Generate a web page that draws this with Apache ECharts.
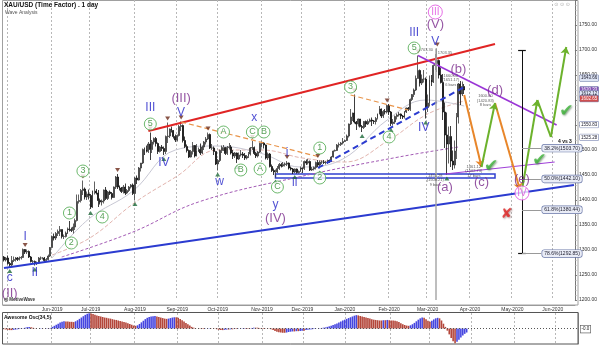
<!DOCTYPE html>
<html>
<head>
<meta charset="utf-8">
<title>XAU/USD Wave Analysis</title>
<script src="https://cdn.jsdelivr.net/npm/echarts@6.0.0/dist/echarts.min.js"></script>
<style>
html,body{margin:0;padding:0;background:#fff;}
#chart{width:600px;height:345px;}
</style>
</head>
<body>
<div id="chart"></div>
<script>
// ---------- categories (weekday trading days) ----------
const firstDay = '2019-04-29';
const lastDay = '2020-06-16';
const monthTickLabels = ['Jun-2019','Jul-2019','Aug-2019','Sep-2019','Oct-2019','Nov-2019','Dec-2019',
  'Jan-2020','Feb-2020','Mar-2020','Apr-2020','May-2020','Jun-2020'];

// ---------- daily candles [open, close, low, high] ----------
const apr2019 = [[1286,1280,1277,1288],[1280,1284,1277,1286]];
const may2019 = [[1284,1273,1271,1289],[1273,1270,1266,1276],[1270,1279,1267,1288],[1279,1281,1276,1287],
  [1281,1284,1277,1286],[1284,1281,1278,1286],[1281,1284,1279,1287],[1284,1285,1281,1288],[1285,1301,1284,1303],
  [1301,1296,1292,1302],[1296,1297,1292,1301],[1297,1286,1284,1299],[1286,1277,1275,1288],[1277,1277,1273,1280],
  [1277,1273,1269,1279],[1273,1274,1270,1277],[1274,1284,1272,1286],[1284,1284,1280,1287],[1284,1284,1281,1286],
  [1284,1279,1276,1286],[1279,1281,1276,1284],[1281,1288,1279,1291],[1288,1305,1286,1306]];
const jun2019 = [[1305,1327,1304,1329],[1327,1324,1319,1333],[1324,1333,1320,1336],[1333,1337,1328,1341],
  [1337,1341,1328,1348],[1341,1327,1323,1341],[1327,1327,1322,1331],[1327,1334,1325,1337],[1334,1342,1332,1345],
  [1342,1341,1337,1358],[1341,1339,1336,1345],[1339,1346,1333,1353],[1346,1359,1340,1363],[1359,1397,1357,1411],
  [1397,1399,1393,1411],[1399,1419,1395,1422],[1419,1422,1410,1439],[1422,1406,1401,1425],[1406,1412,1400,1417],
  [1412,1409,1401,1421]];
const jul2019 = [[1409,1386,1382,1412],[1386,1418,1384,1419],[1418,1418,1411,1437],[1418,1414,1411,1422],
  [1414,1399,1386,1420],[1399,1396,1391,1403],[1396,1398,1389,1401],[1398,1420,1393,1421],[1420,1403,1400,1426],
  [1403,1416,1400,1418],[1416,1413,1410,1419],[1413,1405,1401,1416],[1405,1426,1404,1427],[1426,1446,1422,1448],
  [1446,1426,1422,1452],[1426,1424,1419,1429],[1424,1417,1414,1426],[1417,1426,1413,1430],[1426,1414,1410,1433],
  [1414,1419,1412,1422],[1419,1426,1416,1428],[1426,1430,1423,1432],[1430,1413,1410,1433]];
const aug2019 = [[1413,1444,1400,1446],[1444,1440,1432,1449],[1440,1464,1439,1466],[1464,1474,1457,1474],
  [1474,1501,1472,1503],[1501,1500,1490,1505],[1500,1497,1495,1509],[1497,1512,1494,1516],[1512,1501,1480,1535],
  [1501,1516,1494,1520],[1516,1523,1511,1525],[1523,1513,1507,1526],[1513,1497,1492,1515],[1497,1506,1495,1508],
  [1506,1503,1498,1510],[1503,1497,1490,1507],[1497,1527,1492,1529],[1527,1528,1514,1555],[1528,1542,1524,1543],
  [1542,1539,1535,1547],[1539,1527,1523,1540],[1527,1520,1516,1531]];
const sep2019 = [[1520,1529,1517,1531],[1529,1547,1527,1550],[1547,1549,1538,1557],[1549,1519,1515,1551],
  [1519,1507,1504,1527],[1507,1499,1495,1511],[1499,1486,1484,1501],[1486,1497,1485,1500],[1497,1509,1491,1516],
  [1509,1488,1485,1510],[1488,1498,1487,1512],[1498,1501,1496,1505],[1501,1494,1490,1513],[1494,1506,1492,1509],
  [1506,1516,1500,1518],[1516,1522,1511,1526],[1522,1531,1520,1535],[1531,1504,1502,1533],[1504,1504,1500,1512],
  [1504,1497,1490,1507],[1497,1472,1470,1497]];
const oct2019 = [[1472,1479,1459,1482],[1479,1499,1476,1501],[1499,1505,1494,1509],[1505,1505,1498,1510],
  [1505,1493,1490,1506],[1493,1505,1490,1508],[1505,1506,1501,1514],[1506,1494,1491,1510],[1494,1488,1482,1500],
  [1488,1494,1484,1496],[1494,1482,1474,1495],[1482,1490,1480,1495],[1490,1492,1487,1500],[1492,1489,1484,1496],
  [1489,1484,1480,1494],[1484,1487,1481,1490],[1487,1492,1484,1496],[1492,1504,1489,1506],[1504,1505,1500,1518],
  [1505,1493,1490,1507],[1493,1488,1484,1496],[1488,1496,1485,1498],[1496,1513,1494,1515]];
const nov2019 = [[1513,1514,1505,1517],[1514,1510,1503,1516],[1510,1484,1481,1511],[1484,1492,1480,1495],
  [1492,1467,1465,1494],[1467,1459,1456,1471],[1459,1456,1450,1463],[1456,1456,1445,1461],[1456,1463,1454,1468],
  [1463,1471,1460,1474],[1471,1468,1465,1474],[1468,1471,1466,1476],[1471,1472,1467,1475],[1472,1474,1468,1478],
  [1474,1464,1461,1475],[1464,1462,1459,1467],[1462,1456,1452,1464],[1456,1462,1454,1463],[1462,1455,1453,1463],
  [1455,1457,1453,1459],[1457,1464,1456,1467]];
const dec2019 = [[1464,1463,1454,1465],[1463,1477,1460,1479],[1477,1474,1470,1481],[1474,1477,1471,1482],
  [1477,1460,1458,1479],[1460,1462,1458,1466],[1462,1465,1459,1467],[1465,1475,1461,1477],[1475,1470,1466,1480],
  [1470,1476,1463,1479],[1476,1476,1472,1479],[1476,1475,1472,1480],[1475,1475,1471,1478],[1475,1479,1472,1481],
  [1479,1478,1474,1481],[1478,1486,1476,1488],[1486,1498,1485,1499],[1498,1499,1497,1501],[1499,1510,1498,1512],
  [1510,1511,1505,1515],[1511,1514,1508,1516],[1514,1517,1511,1524]];
const jan2020 = [[1517,1519,1516,1521],[1519,1528,1518,1531],[1528,1552,1525,1553],[1552,1566,1550,1582],
  [1566,1574,1558,1575],[1574,1556,1553,1611],[1556,1552,1540,1558],[1552,1562,1547,1563],[1562,1547,1545,1562],
  [1547,1545,1536,1550],[1545,1557,1542,1558],[1557,1552,1546,1559],[1552,1557,1550,1561],[1557,1560,1555,1563],
  [1560,1558,1548,1565],[1558,1557,1552,1560],[1557,1563,1551,1566],[1563,1572,1561,1573],[1572,1582,1571,1588],
  [1582,1568,1564,1583],[1568,1577,1564,1580],[1577,1576,1571,1582],[1576,1589,1573,1591]];
const feb2020 = [[1589,1576,1570,1592],[1576,1553,1548,1578],[1553,1556,1549,1562],[1556,1567,1552,1569],
  [1567,1570,1561,1573],[1570,1572,1567,1576],[1572,1568,1562,1573],[1568,1566,1562,1570],[1566,1576,1563,1578],
  [1576,1584,1574,1585],[1584,1581,1578,1586],[1581,1601,1578,1603],[1601,1611,1598,1612],[1611,1620,1606,1623],
  [1620,1643,1618,1649],[1643,1659,1643,1689],[1659,1634,1627,1661],[1634,1642,1630,1651],[1642,1642,1635,1660],
  [1642,1585,1563,1645]];
const mar2020 = [[1585,1594,1576,1611],[1594,1641,1587,1649],[1641,1636,1628,1650],[1636,1669,1634,1671],
  [1669,1673,1660,1692],[1673,1679,1656,1703],[1679,1650,1643,1681],[1650,1635,1633,1665],[1635,1576,1560,1652],
  [1576,1530,1504,1595],[1530,1512,1451,1575],[1512,1527,1473,1547],[1527,1478,1466,1548],[1478,1470,1460,1499],
  [1470,1498,1463,1519],[1498,1566,1482,1574],[1566,1632,1553,1634],[1632,1612,1590,1638],[1612,1627,1608,1637],
  [1627,1620,1612,1632]];

// ---------- Awesome Oscillator (34,5) values ----------
const aoApr2019 = [-3,-4];
const aoMay2019 = [-5,-6,-6,-5,-4,-3,-2,-1,1,3,5,6,5,3,1,0,0,1,1,0,1,1,2];
const aoJun2019 = [6,10,14,18,22,25,27,26,26,25,25,24,27,31,36,41,46,51,55,57];
const aoJul2019 = [56,54,51,49,47,45,43,41,40,38,37,35,33,32,30,28,26,24,22,20,17,14,11];
const aoAug2019 = [10,12,17,23,29,35,40,43,45,46,47,45,43,41,39,37,36,37,39,41,42,42];
const aoSep2019 = [40,36,31,26,21,16,11,6,3,1,0,-1,-2,-2,-1,0,1,1,0,-1,-3];
const aoOct2019 = [-5,-6,-6,-5,-4,-4,-3,-3,-2,-2,-1,0,1,2,2,2,1,2,3,3,3,2,2];
const aoNov2019 = [2,1,0,-1,-3,-6,-9,-12,-14,-15,-16,-16,-15,-13,-12,-11,-11,-10,-10,-9,-8];
const aoDec2019 = [-8,-6,-5,-4,-3,-2,-1,0,1,2,3,4,6,8,10,13,16,19,22,26,30,33];
const aoJan2020 = [36,39,42,45,48,50,49,47,45,43,41,39,37,35,33,32,31,30,30,31,31,32,31];
const aoFeb2020 = [30,30,29,27,24,20,16,13,11,10,12,16,21,27,33,38,41,40,35,29];
const aoMar2020 = [25,29,34,38,40,38,30,18,6,-8,-22,-36,-48,-55,-50,-42,-34,-26,-20,-15];

// ---------- moving averages [dayIndex, price] ----------
const ma200Points = [[30,1286],[67,1336],[101,1396],[153,1446],[205,1486],[236,1506]];
const ma50Points = [[25,1290],[45,1325],[68,1395],[90,1448],[111,1500],[134,1500],[155,1484],[177,1476],[200,1520],[220,1572],[239,1598]];
const ma20Points = [[25,1284],[44,1362],[67,1418],[89,1500],[110,1508],[133,1494],[154,1466],[176,1482],[199,1560],[219,1600],[239,1588]];

// ---------- wave labels [dayIndex, price, text] ----------
const blueWaveLabels = [[3,1244,'c'],[11,1326,'I'],[16,1254,'II'],[76,1584,'III'],[83,1474,'IV'],[92,1574,'V'],
  [112,1436,'w'],[130,1564,'x'],[141,1390,'y'],[147,1494,'i'],[151,1434,'ii'],[213,1734,'III'],[218,1544,'IV'],[224,1716,'V']];
const purpleWaveLabels = [[3,1214,'(II)'],[92,1604,'(III)'],[141,1364,'(IV)'],[224,1752,'(V)'],[229,1426,'(a)'],
  [236,1662,'(b)'],[248,1436,'(c)'],[255,1620,'(d)'],[269,1442,'(e)']];
const greenWaveLabels = [[34,1374,'1'],[35,1314,'2'],[41,1458,'3'],[51,1366,'4'],[76,1552,'5'],[114,1536,'A'],
  [123,1460,'B'],[129,1536,'C'],[135,1536,'B'],[133,1462,'A'],[142,1426,'C'],[164,1504,'1'],[164,1444,'2'],
  [180,1626,'3'],[200,1526,'4'],[213,1704,'5']];
const pinkWaveLabels = [[224,1776,'III'],[269,1414,'IV']];
const pivotHighDays = [11,41,59,76,85,92,106,129,147,163,182,199,215,225];
const pivotLowDays = [3,16,45,68,83,111,121,141,151,164,186,201,219,230];
// small measurement notes [dayIndex, price, text]
const waveNotes = [[219,1700,'1703.30'],[229,1694,'1703.35'],[232,1640,'1660.00\n(1651.17)\n6 bars'],
  [250,1599,'1600.00\n(1420.83)\n8 bars'],[224,1440,'1451.28\n(1508.21)\n9 bars'],[244,1458,'1461.12\n(1502.73)\n17 bars']];

// ---------- trend lines [day1, price1, day2, price2] ----------
const redChannel = [75,1538,255,1712];
const blueSupport = [0,1264,296,1430];
const blueDashed = [163,1464,239,1626];
const purpleResistance = [215,1689,287,1550];
const purpleSupport = [229,1452,286,1476];
const orangeDashA = [92,1556,164,1486];
const orangeDashB = [180,1610,210,1580];
const supportZone = [141,1452,255,1444];
const crashMarkerDay = 224;
// scenario arrows
const orangeScenario = [[239,1610,248,1466],[255,1594,268,1420]];
const greenScenario = [[248,1466,255,1594],[269,1420,277,1600],[277,1600,284,1526],[284,1526,292,1706]];
// fibonacci tool
const fibLevels = [['38.2%',1503.70],['50.0%',1442.10],['61.8%',1380.44],['78.6%',1292.85]];
const measureDay = 269, measureTop = 1700, measureBottom = 1292.85;
const checkMarks = [[253,1466],[278,1478],[292,1576]];
const crossMarks = [[261,1372]];
// price tags on the right axis [price, background, text colour]
const priceTags = [[1643.66,'#dde4f4','#223'],[1620.33,'#8455b5','#fff'],[1612.12,'#dde4f4','#223'],
  [1602.65,'#cf4f4f','#fff'],[1550.83,'#ffffff','#223'],[1525.28,'#ffffff','#223']];

// ---------- build ----------
function weekdays(a, b) {
  const out = [];
  const d = new Date(a + 'T00:00:00Z'), e = new Date(b + 'T00:00:00Z');
  while (d <= e) { const w = d.getUTCDay(); if (w !== 0 && w !== 6) out.push(d.toISOString().slice(0, 10)); d.setUTCDate(d.getUTCDate() + 1); }
  return out;
}
const dates = weekdays(firstDay, lastDay);
const candles = [].concat(apr2019, may2019, jun2019, jul2019, aug2019, sep2019, oct2019, nov2019, dec2019, jan2020, feb2020, mar2020);
const ao = [].concat(aoApr2019, aoMay2019, aoJun2019, aoJul2019, aoAug2019, aoSep2019, aoOct2019, aoNov2019, aoDec2019, aoJan2020, aoFeb2020, aoMar2020);
const MON = ['Jan','Feb','Mar','Apr','May','Jun','Jul','Aug','Sep','Oct','Nov','Dec'];
const monthName = s => MON[+s.slice(5, 7) - 1] + '-' + s.slice(0, 4);
const monthStart = new Set();
dates.forEach((s, i) => { if (i > 0 && s.slice(0, 7) !== dates[i - 1].slice(0, 7)) monthStart.add(i); });
const labelSet = new Set(monthTickLabels);
const D = i => dates[i];

const FONT = 'Liberation Sans, Arial, sans-serif';
const BLUE = '#2424c8', PURPLE = '#7b2a8c', PINK = '#e04ce0';

function seg(arr, style, endSym) {
  return [{ coord: [D(arr[0]), arr[1]], symbol: 'none', lineStyle: style },
          { coord: [D(arr[2]), arr[3]], symbol: endSym || 'none', symbolSize: 7 }];
}
const markLines = [
  seg(redChannel, { color: '#e02424', width: 2, type: 'solid' }),
  seg(blueSupport, { color: '#2b3bd0', width: 2, type: 'solid' }),
  seg(blueDashed, { color: '#2b3bd0', width: 2, type: [6, 4] }),
  seg(purpleResistance, { color: '#9a35d6', width: 1.6, type: 'solid' }),
  seg(purpleSupport, { color: '#a040d8', width: 1.2, type: 'solid' }),
  seg(orangeDashA, { color: '#e8944a', width: 1.2, type: [5, 3] }),
  seg(orangeDashB, { color: '#e8944a', width: 1.2, type: [5, 3] }),
  [{ coord: [D(crashMarkerDay), 1703], symbol: 'none', lineStyle: { color: '#a8a8a8', width: 1.5, type: 'solid' } },
   { coord: [D(crashMarkerDay), 1200], symbol: 'none' }],
  [{ coord: [D(measureDay), measureTop], symbol: 'none', lineStyle: { color: '#111', width: 1, type: 'solid' } },
   { coord: [D(measureDay), measureBottom], symbol: 'none' }],
  [{ coord: [D(measureDay - 2), measureTop], symbol: 'none', lineStyle: { color: '#111', width: 1.2, type: 'solid' } },
   { coord: [D(measureDay + 2), measureTop], symbol: 'none' }],
  [{ coord: [D(measureDay - 2), measureBottom], symbol: 'none', lineStyle: { color: '#111', width: 1.2, type: 'solid' } },
   { coord: [D(measureDay + 2), measureBottom], symbol: 'none' }],
];
orangeScenario.forEach(a => markLines.push(seg(a, { color: '#e8862a', width: 2, type: 'solid' }, 'arrow')));
greenScenario.forEach((a, k) => markLines.push(seg(a, { color: '#6cb22c', width: 2, type: 'solid' }, (k === 2 ? 'none' : 'arrow'))));
fibLevels.forEach(([pct, v]) => {
  markLines.push([
    { coord: [D(measureDay), v], symbol: 'none', lineStyle: { color: '#999', width: 1, type: 'solid' },
      label: { show: true, position: 'end', distance: 1, formatter: pct + '(' + v.toFixed(2) + ')', fontSize: 5, fontFamily: FONT,
        color: '#223', backgroundColor: '#e9ecf6', borderColor: '#6a78a8', borderWidth: 0.7, borderRadius: 2, padding: [1, 2, 1, 2] } },
    { coord: [D(measureDay + 10), v], symbol: 'none' }
  ]);
});

function textScatter(list, opts) {
  return Object.assign({
    type: 'scatter', xAxisIndex: 0, yAxisIndex: 0, z: 10, silent: true,
    symbol: 'circle', symbolSize: 1, itemStyle: { color: 'rgba(0,0,0,0)' },
    data: list.map(r => [D(r[0]), r[1], r[2]]),
    label: { show: true, position: 'inside', formatter: p => p.value[2], fontFamily: FONT }
  }, opts);
}
function maLine(points, color, type, width) {
  return { type: 'line', xAxisIndex: 0, yAxisIndex: 0, data: points.map(p => [D(p[0]), p[1]]), smooth: 0.4,
    showSymbol: false, lineStyle: { color: color, width: width, type: type }, z: 2, silent: true };
}

const option = {
  animation: false,
  backgroundColor: '#ffffff',
  textStyle: { fontFamily: FONT },
  grid: [
    { left: 3, right: 22, top: 0, height: 300, show: false },
    { left: 3, right: 22, top: 313, height: 31, show: false }
  ],
  xAxis: [
    { type: 'category', gridIndex: 0, data: dates, boundaryGap: true, offset: 5,
      axisLine: { show: true, lineStyle: { color: '#9a9a9a', width: 1 } },
      axisTick: { show: false },
      axisLabel: { show: true, fontSize: 5, color: '#333', margin: 2, fontFamily: FONT,
        interval: (i, v) => monthStart.has(i) && labelSet.has(monthName(v)),
        formatter: v => monthName(v) },
      splitLine: { show: true, interval: (i) => monthStart.has(i), lineStyle: { color: '#b8b8b8', type: [2, 2], width: 1 } } },
    { type: 'category', gridIndex: 1, data: dates, boundaryGap: true,
      axisLine: { show: false }, axisTick: { show: false }, axisLabel: { show: false },
      splitLine: { show: true, interval: (i) => monthStart.has(i), lineStyle: { color: '#b8b8b8', type: [2, 2], width: 1 } } }
  ],
  yAxis: [
    { type: 'value', gridIndex: 0, position: 'right', min: 1200, max: 1800, interval: 50, scale: true,
      axisLine: { show: true, lineStyle: { color: '#777' } },
      axisTick: { show: true, length: 2, lineStyle: { color: '#777' } },
      minorTick: { show: true, splitNumber: 5, length: 1.5, lineStyle: { color: '#999' } },
      splitLine: { show: false },
      axisLabel: { fontSize: 5, color: '#333', margin: 4, showMaxLabel: false, fontFamily: FONT, formatter: v => v.toFixed(2) } },
    { type: 'value', gridIndex: 1, position: 'right', min: -58, max: 58,
      axisLine: { show: true, lineStyle: { color: '#777' } }, axisTick: { show: false },
      axisLabel: { show: false }, splitLine: { show: false } }
  ],
  graphic: [
    { id: 'frameMain', type: 'rect', shape: { x: 2.5, y: 0.5, width: 575.5, height: 304.5 }, style: { fill: 'none', stroke: '#a0a0a0', lineWidth: 1 }, z: 0, silent: true },
    { id: 'frameOsc', type: 'rect', shape: { x: 2.5, y: 312.5, width: 575.5, height: 31.5 }, style: { fill: 'none', stroke: '#555', lineWidth: 1 }, z: 0, silent: true },
    { id: 't1', type: 'text', left: 4, top: 2, z: 20, style: { text: 'XAU/USD (Time Factor) . 1 day', font: 'bold 6.5px ' + FONT, fill: '#111' } },
    { id: 't2', type: 'text', left: 5, top: 10, z: 20, style: { text: 'Wave Analysis', font: '5px ' + FONT, fill: '#555' } },
    { id: 't3', type: 'text', left: 4, top: 297, z: 20, style: { text: '\u25CE MotiveWave', font: 'bold 4.5px ' + FONT, fill: '#333' } },
    { id: 't4', type: 'text', left: 4, top: 315, z: 20, style: { text: 'Awesome Osc(34,5)', font: 'bold 5px ' + FONT, fill: '#111' } },
    { id: 't5', type: 'text', left: 558, top: 139, z: 20, style: { text: '4 vs 3', font: 'bold 5px ' + FONT, fill: '#111' } },
    { id: 't6', type: 'text', left: 580, top: 325, z: 20, style: { text: '-0.0', font: '4.5px ' + FONT, fill: '#222', backgroundColor: '#fff', borderColor: '#555', borderWidth: 0.6, padding: [1, 1] } },
    { id: 't7', type: 'text', right: 30, top: 2, z: 20, style: { text: '\u2299 \u2299 \u2299', font: '5px DejaVu Sans', fill: '#aaa' } }
  ],
  series: [
    { type: 'candlestick', name: 'XAU/USD', xAxisIndex: 0, yAxisIndex: 0, data: candles, barWidth: 1.4, z: 3,
      itemStyle: { color: '#4a4a4a', color0: '#0d0d0d', borderColor: '#3a3a3a', borderColor0: '#0d0d0d', borderWidth: 0.8 },
      markLine: { silent: true, symbol: ['none', 'none'], label: { show: false }, animation: false, z: 6, data: markLines },
      markArea: { silent: true, itemStyle: { color: 'rgba(0,0,0,0)', borderColor: '#3040d0', borderWidth: 1.5 },
        data: [[{ coord: [D(supportZone[0]), supportZone[1]] }, { coord: [D(supportZone[2]), supportZone[3]] }]] } },
    maLine(ma200Points, '#a35bb5', [3, 2], 1),
    maLine(ma50Points, '#e2b4ae', [4, 2], 1),
    maLine(ma20Points, '#c8c8d4', 'solid', 1),
    { type: 'scatter', xAxisIndex: 0, yAxisIndex: 0, symbol: 'triangle', symbolSize: [5, 4], symbolRotate: 180, symbolOffset: [0, -4],
      itemStyle: { color: '#6b2a1a' }, z: 8, silent: true, data: pivotHighDays.map(i => [D(i), candles[i][3]]) },
    { type: 'scatter', xAxisIndex: 0, yAxisIndex: 0, symbol: 'triangle', symbolSize: [5, 4], symbolOffset: [0, 4],
      itemStyle: { color: '#1e6a3a' }, z: 8, silent: true, data: pivotLowDays.map(i => [D(i), candles[i][2]]) },
    textScatter(waveNotes, { z: 9, label: { show: true, position: 'inside', formatter: p => p.value[2], fontFamily: FONT, fontSize: 4, lineHeight: 4.5, color: '#333' } }),
    textScatter(blueWaveLabels, { label: { show: true, position: 'inside', formatter: p => p.value[2], fontFamily: FONT, fontSize: 12, color: BLUE } }),
    textScatter(purpleWaveLabels, { label: { show: true, position: 'inside', formatter: p => p.value[2], fontFamily: FONT, fontSize: 13, color: PURPLE } }),
    Object.assign(textScatter(greenWaveLabels, {}), { symbolSize: 12, itemStyle: { color: '#ffffff', borderColor: '#4aa84a', borderWidth: 1 },
      label: { show: true, position: 'inside', formatter: p => p.value[2], fontFamily: FONT, fontSize: 9, color: '#2f8a2f' } }),
    Object.assign(textScatter(pinkWaveLabels, {}), { symbolSize: 14, itemStyle: { color: '#ffffff', borderColor: PINK, borderWidth: 1 },
      label: { show: true, position: 'inside', formatter: p => p.value[2], fontFamily: FONT, fontSize: 10, color: PINK } }),
    textScatter(checkMarks.map(c => [c[0], c[1], '\u2714']), { z: 12, label: { show: true, position: 'inside', formatter: p => p.value[2],
      fontFamily: 'DejaVu Sans', fontSize: 17, color: '#3fb33a', textShadowColor: 'rgba(0,60,0,0.6)', textShadowBlur: 2, textShadowOffsetX: 1, textShadowOffsetY: 1 } }),
    textScatter(crossMarks.map(c => [c[0], c[1], '\u2718']), { z: 12, label: { show: true, position: 'inside', formatter: p => p.value[2],
      fontFamily: 'DejaVu Sans', fontSize: 14, color: '#e02020', textShadowColor: 'rgba(80,0,0,0.5)', textShadowBlur: 2, textShadowOffsetX: 1, textShadowOffsetY: 1 } }),
    { type: 'bar', name: 'Awesome Osc', xAxisIndex: 1, yAxisIndex: 1, barWidth: 1.6, silent: true,
      data: ao.map((v, i) => ({ value: v, itemStyle: { color: (i > 0 && v > ao[i - 1]) ? '#4646e0' : '#b4463a' } })),
      markLine: { silent: true, symbol: ['none', 'none'], label: { show: false },
        lineStyle: { color: '#555', type: [1, 2], width: 1 }, data: [{ yAxis: 0 }] } }
  ]
};
const chart = echarts.init(document.getElementById('chart'), null, { renderer: 'canvas' });
chart.setOption(option);
// price tags placed through the price axis scale
const tagEls = priceTags.map((t, k) => {
  const y = chart.convertToPixel({ yAxisIndex: 0 }, t[0]);
  return { id: 'tag' + k, type: 'text', x: 580, y: y - 3, z: 25,
    style: { text: t[0].toFixed(2), font: '4.5px ' + FONT, fill: t[2], backgroundColor: t[1], borderColor: '#6a78a8', borderWidth: 0.5, padding: [0.5, 1] } };
});
chart.setOption({ graphic: tagEls });
</script>
</body>
</html>
